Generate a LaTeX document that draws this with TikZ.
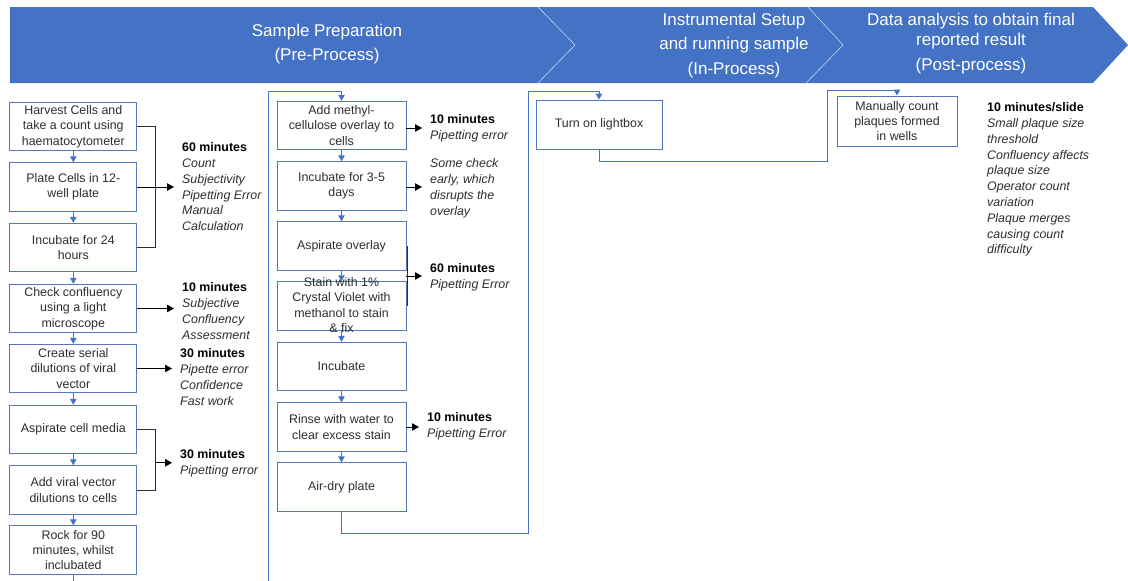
\documentclass[tikz,border=0pt]{standalone}
\usepackage{fontspec}
\setmainfont{Liberation Sans}
\usetikzlibrary{arrows.meta}

\definecolor{bandblue}{RGB}{68,114,196}
\definecolor{boxline}{RGB}{84,120,184}
\definecolor{flowblue}{RGB}{68,114,196}
\definecolor{inkgray}{RGB}{45,45,45}

\newcommand{\boxfont}{\fontsize{12.4}{15.3}\selectfont}
\newcommand{\notefont}{\fontsize{12.4}{15.8}\selectfont}
\newcommand{\bandfont}{\fontsize{17}{24.5}\selectfont}

\begin{document}
\begin{tikzpicture}[x=1pt,y=-1pt,
  stepbox/.style={draw=boxline, line width=0.9pt, inner sep=0pt, align=center,
    font=\boxfont, text=inkgray, minimum width=127pt, minimum height=48.5pt},
  midbox/.style={stepbox, minimum width=129pt},
  boxtext/.style={inner sep=0pt, align=center, font=\boxfont, text=inkgray},
  flow/.style={draw=flowblue, line width=1pt, -{Triangle[width=6.5pt,length=6pt]}},
  note/.style={anchor=north west, align=left, inner xsep=8pt, inner ysep=0pt,
    font=\notefont, text=inkgray},
  notearrow/.style={draw=black, line width=0.9pt, -{Triangle[width=7.5pt,length=7pt]}},
  bracket/.style={draw=inkgray, line width=0.9pt},
  bandtext/.style={text=white, align=center, font=\bandfont},
]
\useasboundingbox (0,0) rectangle (1128,581);
\clip (0,0) rectangle (1128,581);

% ---- phase band ----
\fill[bandblue] (10,7) -- (1093,7) -- (1128,45) -- (1093,83) -- (10,83) -- cycle;
\draw[white!70!bandblue, line width=0.6pt] (538,7) -- (575,45) -- (538,83);
\draw[white!70!bandblue, line width=0.6pt] (808,7) -- (843,45) -- (806,83);

\node[bandtext] (hpre)  at (327,44)   {Sample Preparation\\(Pre-Process)};
\node[bandtext] (hin)   at (734,45.5) {Instrumental Setup\\and running sample\\(In-Process)};
\node[bandtext] (hpost) at (971,43.5) {Data analysis to obtain final\\[-4.5pt]reported result\\(Post-process)};

% ---- sample preparation, first column ----
\node[stepbox] (b1) at (73.3,126.5) {Harvest Cells and\\take a count using\\haematocytometer};
\node[stepbox] (b2) at (73.3,187)   {Plate Cells in 12-\\well plate};
\node[stepbox] (b3) at (73.3,247.5) {Incubate for 24\\hours};
\node[stepbox] (b4) at (73.3,308.5) {Check confluency\\using a light\\microscope};
\node[stepbox] (b5) at (73.3,368.5) {Create serial\\dilutions of viral\\vector};
\node[stepbox] (b6) at (73.3,429.5) {Aspirate cell media};
\node[stepbox] (b7) at (73.3,490)   {Add viral vector\\dilutions to cells};
\node[stepbox] (b8) at (73.3,550)   {Rock for 90\\minutes, whilst\\inclubated};

% ---- sample preparation, second column ----
\node[midbox] (m1) at (341.5,125.5) {Add methyl-\\cellulose overlay to\\cells};
\node[midbox] (m2) at (341.5,186)   {Incubate for 3-5\\days};
\node[midbox] (m3) at (341.5,246)   {Aspirate overlay};
\node[midbox] (m4) at (341.5,306)   {};
\node[boxtext] (m4text) at (341.5,305) {Stain with 1\%\\[0.2pt]Crystal Violet with\\[0.2pt]methanol to stain\\[0.2pt]\& fix};
\node[midbox] (m5) at (341.5,366.5) {Incubate};
\node[midbox] (m6) at (341.5,427)   {Rinse with water to\\clear excess stain};
\node[midbox] (m7) at (341.5,487)   {Air-dry plate};

% ---- in-process and post-process ----
\node[stepbox, minimum width=126pt, minimum height=49pt] (l1) at (599,124.5) {Turn on lightbox};
\node[stepbox, minimum width=120pt, minimum height=50pt] (c1) at (897,121) {Manually count\\plaques formed\\in wells};

% ---- flow connectors ----
\foreach \a/\b in {b1/b2,b2/b3,b3/b4,b4/b5,b5/b6,b6/b7,b7/b8,
                   m1/m2,m2/m3,m3/m4,m4/m5,m5/m6,m6/m7}
  \draw[flow] (\a.south) -- (\b.north);

\coordinate (lowleft) at (73.3,600);
\coordinate (railA) at (268,91);
\draw[flow] (b8.south) -- (lowleft) -| (railA) -| (m1.north);

\coordinate (railB) at (528,91);
\draw[flow] (m7.south) -- ++(0,22) -| (railB) -| (l1.north);

\coordinate (railC) at (827,90);
\draw[flow] (l1.south) -- ++(0,12) -| (railC) -| (c1.north);

% ---- time and error notes ----
\node[note] (n1) at (174,140.4) {\strut\textbf{\color{black}60 minutes}\\\textit{Count}\\\textit{Subjectivity}\\\textit{Pipetting Error}\\\textit{Manual}\\\textit{Calculation}};
\node[note] (n4) at (174,280.4) {\strut\textbf{\color{black}10 minutes}\\\textit{Subjective}\\\textit{Confluency}\\\textit{Assessment}};
\node[note] (n5) at (172,346.4) {\strut\textbf{\color{black}30 minutes}\\\textit{Pipette error}\\\textit{Confidence}\\\textit{Fast work}};
\node[note] (n6) at (172,447.4) {\strut\textbf{\color{black}30 minutes}\\\textit{Pipetting error}};
\node[note] (nm1) at (422,112.4) {\strut\textbf{\color{black}10 minutes}\\\textit{Pipetting error}};
\node[note] (nm2) at (422,156.4) {\strut\textit{Some check}\\\textit{early, which}\\\textit{disrupts the}\\\textit{overlay}};
\node[note] (nm3) at (422,261.4) {\strut\textbf{\color{black}60 minutes}\\\textit{Pipetting Error}};
\node[note] (nm6) at (419,410.4) {\strut\textbf{\color{black}10 minutes}\\\textit{Pipetting Error}};
\node[note] (nc1) at (979,100.4) {\strut\textbf{\color{black}10 minutes/slide}\\\textit{Small plaque size}\\\textit{threshold}\\\textit{Confluency affects}\\\textit{plaque size}\\\textit{Operator count}\\\textit{variation}\\\textit{Plaque merges}\\\textit{causing count}\\\textit{difficulty}};

\draw[bracket] (b1.east) -- ++(18,0) |- (b3.east);
\draw[notearrow] (b2.east) -- (b2.east -| n1.west);
\draw[notearrow] (b4.east) -- (b4.east -| n4.west);
\draw[notearrow] (b5.east) -- (b5.east -| n5.west);

\draw[bracket] (b6.east) -- ++(18,0) coordinate (k6) |- (b7.east);
\path (b7.east) ++(18,0) coordinate (k7);
\path (k6) -- (k7) coordinate[pos=0.55] (k67);
\draw[notearrow] (k67) -- (k67 -| n6.west);

\draw[notearrow] (m1.east) ++(0,2.5) coordinate (m1a) -- (m1a -| nm1.west);
\draw[notearrow] (m2.east) ++(0,1) coordinate (m2a) -- (m2a -| nm2.west);
\draw[bracket] (m3.east) ++(0.8,0) coordinate (m3a) -- (m4.east -| m3a);
\path (m3.east) -- (m4.east) coordinate[midway] (m34);
\draw[notearrow] (m34) -- (m34 -| nm3.west);
\draw[notearrow] (m6.east) -- (m6.east -| nm6.west);

\end{tikzpicture}
\end{document}
